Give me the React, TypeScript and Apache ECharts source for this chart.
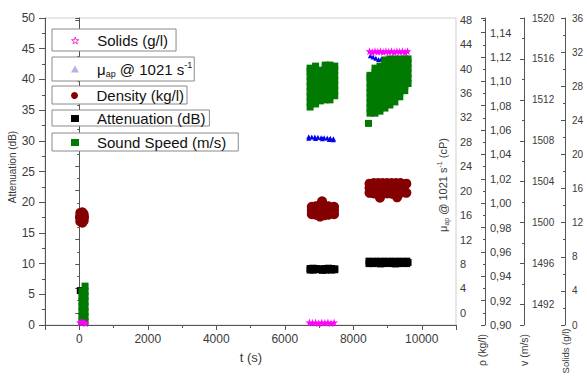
import React, { useEffect, useRef } from "react";
import * as echarts from "echarts";

const FONT = "Liberation Sans, Arial, sans-serif";

const NAME_SOLIDS = "Solids (g/l)";
const NAME_MU = "μap @ 1021 s-1";
const NAME_DENSITY = "Density (kg/l)";
const NAME_ATT = "Attenuation (dB)";
const NAME_SOUND = "Sound Speed (m/s)";

// t (s) axis
const tMin = -1000;
const tMax = 11000;

// [t (s), solids (g/l)]
const solidsData = [
  [20, 0.3], [80, 0.4], [140, 0.3], [190, 0.2],
  [6720, 0.3], [6810, 0.25], [6900, 0.3], [6990, 0.2], [7080, 0.3], [7170, 0.25], [7260, 0.3], [7350, 0.2], [7440, 0.3],
  [8475, 32.1], [8555, 32.0], [8635, 32.1], [8715, 32.05], [8795, 32.1], [8875, 32.0], [8955, 32.1], [9035, 32.05],
  [9115, 32.1], [9195, 32.0], [9275, 32.1], [9355, 32.05], [9435, 32.1], [9515, 32.0], [9585, 32.1],
];

// [t (s), mu_ap (cP)]
const muData = [
  [6700, 28.85], [6790, 28.8], [6880, 28.8], [6970, 28.75], [7060, 28.7], [7150, 28.7], [7240, 28.65], [7330, 28.6], [7420, 28.5],
  [6700, 28.6], [6900, 28.55], [7100, 28.5], [7300, 28.4], [7420, 28.35],
  [8500, 42.1], [8580, 41.9], [8660, 41.7], [8740, 41.5], [8820, 41.6],
];

// [t (s), density (kg/l)]
const densityData = [
  [30, 0.992], [90, 0.9925], [130, 0.991], [20, 0.9885], [80, 0.989], [140, 0.9885], [30, 0.985], [90, 0.984], [130, 0.9855],
  [6790, 0.997], [6790, 0.994], [6790, 0.991], [6900, 0.9975], [6900, 0.994], [6900, 0.9905],
  [7030, 0.9985], [7030, 0.994], [7030, 0.989], [7090, 1.0015], [7150, 0.998], [7150, 0.994], [7150, 0.99],
  [7280, 0.9975], [7280, 0.994], [7280, 0.9905], [7440, 0.997], [7440, 0.994], [7440, 0.991],
  [8475, 1.016], [8475, 1.0125], [8475, 1.0085], [8600, 1.0165], [8600, 1.0125], [8600, 1.008],
  [8730, 1.0165], [8780, 1.0125], [8780, 1.0045], [8860, 1.0165], [8860, 1.0085], [8990, 1.0165], [8990, 1.0125], [8990, 1.008],
  [9120, 1.0165], [9120, 1.0125], [9120, 1.0078], [9250, 1.0165], [9280, 1.0125], [9280, 1.0048],
  [9380, 1.0165], [9380, 1.0085], [9470, 1.0125], [9550, 1.016], [9550, 1.0085],
];

// [t (s), attenuation (dB)]
const attenuationData = [
  [30, 5.6], [90, 4.4], [90, 3.0], [90, 1.6], [90, 0.6],
  [6740, 9.2], [6740, 8.95], [6830, 9.25], [6830, 8.95], [6920, 9.2], [6920, 9.0], [7010, 9.1], [7100, 9.15], [7100, 8.9],
  [7190, 9.2], [7190, 8.95], [7280, 9.25], [7280, 9.0], [7370, 9.2], [7370, 8.95], [7460, 9.15], [7460, 9.0],
  [8460, 10.4], [8460, 10.0], [8570, 10.35], [8570, 10.0], [8680, 10.4], [8680, 10.05], [8790, 10.35], [8790, 9.95],
  [8900, 10.4], [8900, 10.0], [9010, 10.35], [9010, 10.05], [9120, 10.4], [9120, 10.0], [9230, 10.35], [9230, 9.95],
  [9340, 10.4], [9340, 10.0], [9450, 10.35], [9450, 10.05], [9560, 10.4], [9560, 10.0], [9600, 10.2],
];

// [t (s), sound speed (m/s)]
const soundSpeedData = [
  [80, 1490.3], [80, 1490.8], [80, 1491.3], [80, 1491.8], [80, 1492.3], [80, 1492.8], [80, 1493.3],
  [170, 1490.3], [170, 1490.8], [170, 1491.3], [170, 1491.8], [170, 1492.3], [170, 1492.8], [170, 1493.3], [170, 1493.8],
  [6740, 1511.3], [6740, 1511.8], [6740, 1512.3], [6740, 1512.8], [6740, 1513.3], [6740, 1513.8], [6740, 1514.3], [6740, 1514.8], [6740, 1515.1],
  [6900, 1511.6], [6900, 1512.1], [6900, 1512.6], [6900, 1513.1], [6900, 1513.6], [6900, 1514.1], [6900, 1514.6], [6900, 1515.1], [6900, 1515.3],
  [7040, 1511.9], [7040, 1512.4], [7040, 1512.9], [7040, 1513.4], [7040, 1513.9], [7040, 1514.4], [7040, 1514.9],
  [7180, 1512.0], [7180, 1512.5], [7180, 1513.0], [7180, 1513.5], [7180, 1514.0], [7180, 1514.5], [7180, 1515.0], [7180, 1515.4],
  [7320, 1512.0], [7320, 1512.5], [7320, 1513.0], [7320, 1513.5], [7320, 1514.0], [7320, 1514.5], [7320, 1515.0], [7320, 1515.4],
  [7460, 1512.4], [7460, 1512.9], [7460, 1513.4], [7460, 1513.9], [7460, 1514.4], [7460, 1514.9], [7460, 1515.3],
  [8445, 1509.7],
  [8489, 1510.7], [8489, 1511.2], [8489, 1511.7], [8489, 1512.2], [8489, 1512.7], [8489, 1513.2], [8489, 1513.7], [8489, 1514.2], [8489, 1514.4],
  [8635, 1510.7], [8635, 1511.2], [8635, 1511.7], [8635, 1512.2], [8635, 1512.7], [8635, 1513.2], [8635, 1513.7], [8635, 1514.2], [8635, 1514.7], [8635, 1515.1],
  [8780, 1510.9], [8780, 1511.4], [8780, 1511.9], [8780, 1512.4], [8780, 1512.9], [8780, 1513.4], [8780, 1513.9], [8780, 1514.4], [8780, 1514.9], [8780, 1515.3],
  [8925, 1511.2], [8925, 1511.7], [8925, 1512.2], [8925, 1512.7], [8925, 1513.2], [8925, 1513.7], [8925, 1514.2], [8925, 1514.7], [8925, 1515.2], [8925, 1515.7], [8925, 1515.9],
  [9070, 1511.5], [9070, 1512.0], [9070, 1512.5], [9070, 1513.0], [9070, 1513.5], [9070, 1514.0], [9070, 1514.5], [9070, 1515.0], [9070, 1515.5], [9070, 1516.0],
  [9215, 1511.8], [9215, 1512.3], [9215, 1512.8], [9215, 1513.3], [9215, 1513.8], [9215, 1514.3], [9215, 1514.8], [9215, 1515.3], [9215, 1515.8], [9215, 1516.0],
  [9360, 1512.3], [9360, 1512.8], [9360, 1513.3], [9360, 1513.8], [9360, 1514.3], [9360, 1514.8], [9360, 1515.3], [9360, 1515.8], [9360, 1516.0],
  [9505, 1512.9], [9505, 1513.4], [9505, 1513.9], [9505, 1514.4], [9505, 1514.9], [9505, 1515.4], [9505, 1515.9], [9505, 1516.0],
  [9600, 1513.6], [9600, 1514.1], [9600, 1514.6], [9600, 1515.1], [9600, 1515.6], [9600, 1516.0],
];

const STAR = "path://M50,0 L61,35 L98,35 L68,57 L79,91 L50,70 L21,91 L32,57 L2,35 L39,35 Z";

const axisLineStyle = { color: "#555", width: 1 };
const labelColor = "#3a3a3a";
const plain = (v: number) => String(v);

function rightAxis(offset: number, extra: any) {
  return {
    type: "value",
    position: "right",
    offset,
    splitLine: { show: false },
    axisLine: { show: true, lineStyle: axisLineStyle },
    axisTick: { show: true, inside: true, length: 4, lineStyle: axisLineStyle },
    minorTick: { show: true, splitNumber: 2, length: 2, lineStyle: axisLineStyle },
    ...extra,
  };
}

function legendBox(name: string, top: number, padding: number[], itemStyle?: any) {
  return {
    left: 52,
    top,
    orient: "vertical",
    selectedMode: false,
    data: [itemStyle ? { name, itemStyle } : name],
    borderColor: "#8a8a8a",
    borderWidth: 1,
    backgroundColor: "#fff",
    padding,
    itemWidth: 8,
    itemHeight: 7,
    formatter: (n: string) =>
      n === NAME_MU ? "{n|μ}{sub|ap}{n| @ 1021 s}{sup|-1}" : "{n|" + n + "}",
    textStyle: {
      color: "#111",
      fontFamily: FONT,
      fontSize: 15,
      rich: {
        n: { fontSize: 15, fontFamily: FONT, color: "#111", lineHeight: 18 },
        sub: { fontSize: 9, fontFamily: FONT, color: "#111", verticalAlign: "bottom", lineHeight: 10 },
        sup: { fontSize: 9, fontFamily: FONT, color: "#111", verticalAlign: "top", lineHeight: 10 },
      },
      padding: [0, 0, 0, 13],
    },
  };
}

function vText(text: string, x: number, y: number, fontSize: number, rich?: any) {
  return {
    type: "text",
    x,
    y,
    rotation: Math.PI / 2,
    silent: true,
    style: {
      text,
      fill: labelColor,
      fontFamily: FONT,
      fontSize,
      align: "center",
      verticalAlign: "middle",
      textAlign: "center",
      textVerticalAlign: "middle",
      rich,
    },
  };
}

export default function App() {
  const ref = useRef<HTMLDivElement>(null);
  useEffect(() => {
    if (!ref.current) return;
    const chart = echarts.init(ref.current, null, { renderer: "svg" });
    const option: any = {
      animation: false,
      backgroundColor: "#fff",
      grid: { left: 45, right: 131, top: 18, bottom: 51, show: true, borderColor: "#cfcfcf", borderWidth: 1 },
      legend: [
        legendBox(NAME_SOLIDS, 29, [4, 8, 3, 19], { color: "#fff", borderColor: "#ff33cc", borderWidth: 1 }),
        legendBox(NAME_MU, 57, [3, 2, 3, 19], { color: "#b4b4e6" }),
        legendBox(NAME_DENSITY, 86, [2, 3, 1, 19]),
        legendBox(NAME_ATT, 110, [1, 4, 0, 19]),
        legendBox(NAME_SOUND, 133, [2, 12, 1, 19]),
      ],
      xAxis: {
        type: "value",
        min: tMin,
        max: tMax,
        minInterval: 2000,
        maxInterval: 2000,
        splitLine: { show: false },
        axisLine: { show: true, onZero: false, lineStyle: axisLineStyle },
        axisTick: { show: true, length: 5, lineStyle: axisLineStyle },
        minorTick: { show: true, splitNumber: 2, length: 3, lineStyle: axisLineStyle },
        axisLabel: { color: labelColor, fontFamily: FONT, fontSize: 12, margin: 8, showMinLabel: false, showMaxLabel: false, formatter: plain },
      },
      yAxis: [
        {
          type: "value",
          position: "left",
          min: 0,
          max: 50,
          interval: 5,
          splitLine: { show: false },
          axisLine: { show: true, onZero: false, lineStyle: axisLineStyle },
          axisTick: { show: true, length: 6, lineStyle: axisLineStyle },
          minorTick: { show: true, splitNumber: 2, length: 3, lineStyle: axisLineStyle },
          axisLabel: { color: labelColor, fontFamily: FONT, fontSize: 12, margin: 10, formatter: plain },
        },
        rightAxis(0, {
          min: -2,
          max: 48.3,
          minInterval: 4,
          maxInterval: 4,
          axisLabel: { color: labelColor, fontFamily: FONT, fontSize: 11, margin: 4, showMinLabel: false, showMaxLabel: false, formatter: plain },
        }),
        rightAxis(29, {
          min: 0.9,
          max: 1.152,
          interval: 0.02,
          axisLabel: {
            color: labelColor,
            fontFamily: FONT,
            fontSize: 11,
            margin: 5,
            showMaxLabel: false,
            formatter: (v: number) => v.toFixed(2).replace(".", ","),
          },
        }),
        rightAxis(68, {
          min: 1490,
          max: 1520,
          minInterval: 4,
          maxInterval: 4,
          axisLabel: { color: labelColor, fontFamily: FONT, fontSize: 10, margin: 8, showMinLabel: false, formatter: plain },
        }),
        rightAxis(109, {
          min: 0,
          max: 36,
          interval: 4,
          axisLabel: { color: labelColor, fontFamily: FONT, fontSize: 10, margin: 7, formatter: plain },
        }),
      ],
      series: [
        {
          name: NAME_ATT,
          type: "scatter",
          yAxisIndex: 0,
          data: attenuationData,
          symbol: "rect",
          symbolSize: 7,
          itemStyle: { color: "#000000", opacity: 1 },
        },
        {
          name: NAME_DENSITY,
          type: "scatter",
          yAxisIndex: 2,
          data: densityData,
          symbol: "circle",
          symbolSize: 10,
          itemStyle: { color: "#850000", opacity: 1 },
        },
        {
          name: NAME_MU,
          type: "scatter",
          yAxisIndex: 1,
          data: muData,
          symbol: "triangle",
          symbolSize: 5,
          itemStyle: { color: "#0000ee", opacity: 1 },
        },
        {
          name: NAME_SOUND,
          type: "scatter",
          yAxisIndex: 3,
          data: soundSpeedData,
          symbol: "rect",
          symbolSize: 7,
          itemStyle: { color: "#007a00", opacity: 1 },
        },
        {
          name: NAME_SOLIDS,
          type: "scatter",
          yAxisIndex: 4,
          data: solidsData,
          symbol: STAR,
          symbolSize: 8,
          itemStyle: { color: "#ff00ff", opacity: 1 },
        },
      ],
      graphic: [
        vText("Attenuation (dB)", 12, 167, 10),
        vText("{n|μ}{sub|ap}{n| @ 1021 s}{sup|-1}{n| (cP)}", 443, 185, 11, {
          n: { fontSize: 11, fontFamily: FONT, fill: labelColor, lineHeight: 14 },
          sub: { fontSize: 7, fontFamily: FONT, fill: labelColor, verticalAlign: "bottom", lineHeight: 8 },
          sup: { fontSize: 7, fontFamily: FONT, fill: labelColor, verticalAlign: "top", lineHeight: 8 },
        }),
        vText("ρ (kg/l)", 482, 350, 10.5),
        vText("v (m/s)", 524, 350, 10.5),
        vText("Solids (g/l)", 565, 351, 9.5),
        {
          type: "text",
          x: 251,
          y: 357,
          silent: true,
          style: {
            text: "t (s)",
            fill: labelColor,
            fontFamily: FONT,
            fontSize: 13,
            align: "center",
            verticalAlign: "middle",
            textAlign: "center",
            textVerticalAlign: "middle",
          },
        },
      ],
    };
    chart.setOption(option);
    return () => chart.dispose();
  }, []);
  return <div ref={ref} style={{ position: "fixed", left: 0, top: 0, width: 587, height: 376 }} />;
}
